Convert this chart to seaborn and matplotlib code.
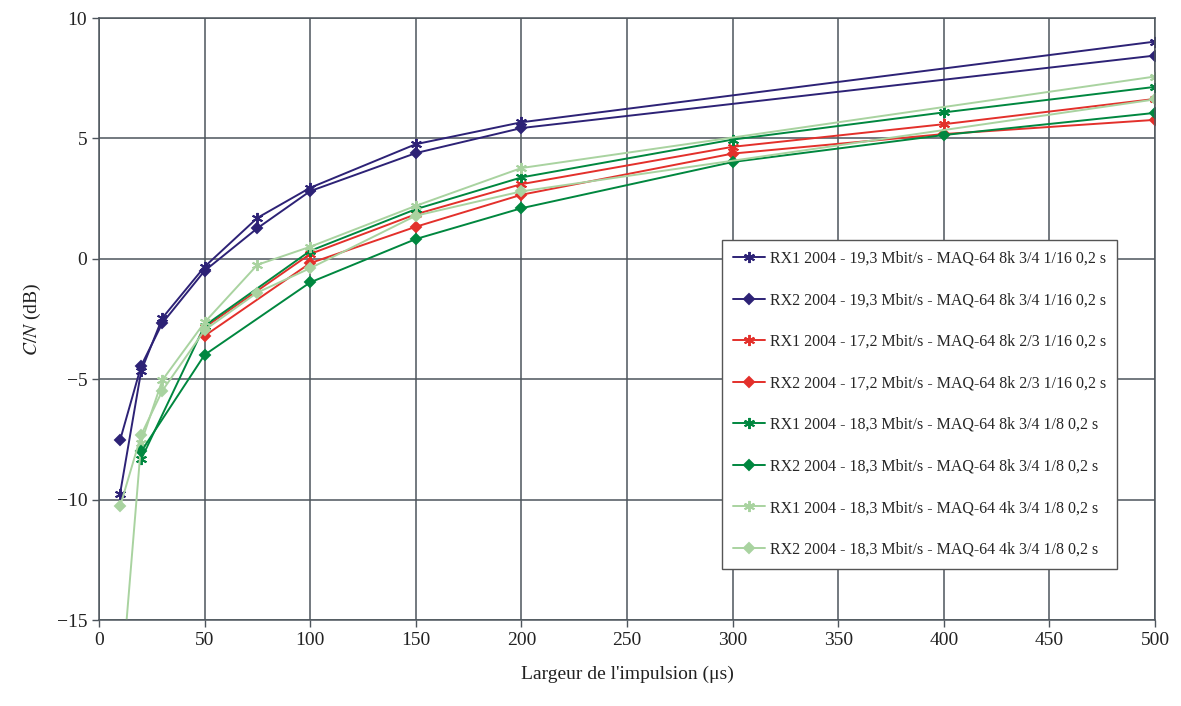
import pandas as pd
import matplotlib
matplotlib.use("Agg")
import matplotlib.pyplot as plt
import seaborn as sns

# ---- data ----
labels = [
    "RX1 2004 - 19,3 Mbit/s - MAQ-64 8k 3/4 1/16 0,2 s",
    "RX2 2004 - 19,3 Mbit/s - MAQ-64 8k 3/4 1/16 0,2 s",
    "RX1 2004 - 17,2 Mbit/s - MAQ-64 8k 2/3 1/16 0,2 s",
    "RX2 2004 - 17,2 Mbit/s - MAQ-64 8k 2/3 1/16 0,2 s",
    "RX1 2004 - 18,3 Mbit/s - MAQ-64 8k 3/4 1/8 0,2 s",
    "RX2 2004 - 18,3 Mbit/s - MAQ-64 8k 3/4 1/8 0,2 s",
    "RX1 2004 - 18,3 Mbit/s - MAQ-64 4k 3/4 1/8 0,2 s",
    "RX2 2004 - 18,3 Mbit/s - MAQ-64 4k 3/4 1/8 0,2 s",
]

navy_x = [10, 20, 30, 50, 75, 100, 150, 200, 500]
navy_rx1 = [-9.75, -4.65, -2.46, -0.33, 1.70, 2.95, 4.76, 5.67, 9.02]
navy_rx2 = [-7.53, -4.44, -2.67, -0.50, 1.27, 2.81, 4.39, 5.43, 8.44]

red_x = [50, 100, 150, 200, 300, 400, 500]
red_rx1 = [-2.85, 0.20, 1.85, 3.10, 4.65, 5.59, 6.64]
red_rx2 = [-3.20, -0.18, 1.33, 2.66, 4.37, 5.18, 5.77]

green_x = [20, 50, 100, 150, 200, 300, 400, 500]
green_rx1 = [-8.32, -2.78, 0.33, 2.06, 3.38, 4.95, 6.08, 7.14]
green_rx2 = [-8.00, -3.99, -0.98, 0.82, 2.10, 4.02, 5.14, 6.06]

lgreen_x = [10, 20, 30, 50, 75, 100, 150, 200, 500]
lgreen_rx1 = [-18.3, -7.63, -5.04, -2.64, -0.25, 0.50, 2.20, 3.77, 7.57]
lgreen_rx2 = [-10.28, -7.31, -5.48, -2.96, -1.40, -0.39, 1.79, 2.80, 6.62]

colors = ["#2d2276", "#2d2276", "#e3302b", "#e3302b",
          "#00873f", "#00873f", "#a9d3a0", "#a9d3a0"]

# long format table for seaborn
pairs = [(navy_x, navy_rx1), (navy_x, navy_rx2), (red_x, red_rx1), (red_x, red_rx2),
         (green_x, green_rx1), (green_x, green_rx2), (lgreen_x, lgreen_rx1), (lgreen_x, lgreen_rx2)]
frames = []
for lab, (xs, ys) in zip(labels, pairs):
    frames.append(pd.DataFrame({"x": xs, "y": ys, "serie": lab}))
df = pd.concat(frames, ignore_index=True)
df["rx"] = df["serie"].str[:3]

# ---- style ----
sns.set_theme(style="white")
plt.rcParams['font.family'] = ['Liberation Serif', 'DejaVu Serif']
plt.rcParams['mathtext.fontset'] = 'stix'

grid_col = "#4d555c"
palette = dict(zip(labels, colors))

fig = plt.figure(figsize=(11.81, 7.06), dpi=100)
ax = fig.add_axes([0.0838, 0.1218, 0.8942, 0.8527])

# RX1 series: asterisk markers, RX2 series: diamonds
for rx, mk, ms in [("RX1", (6, 2, 0), 8), ("RX2", "D", 5)]:
    sub = df[df["rx"] == rx]
    sns.lineplot(data=sub, x="x", y="y", hue="serie",
                 hue_order=[l for l in labels if l.startswith(rx)],
                 palette=palette, marker=mk, markersize=ms, markeredgewidth=1.4,
                 linewidth=1.4, estimator=None, sort=True, ax=ax)

# marker edges in the line colour (seaborn makes them white)
for ln in ax.lines:
    ln.set_markeredgecolor(ln.get_color())
    ln.set_markerfacecolor(ln.get_color())

ax.set_xlim(0, 500)
ax.set_ylim(-15, 10)
ax.set_xticks(range(0, 501, 50))
ax.set_yticks(range(-15, 11, 5))
ax.grid(True, color=grid_col, linewidth=1.1)
ax.set_axisbelow(True)
for sp in ax.spines.values():
    sp.set_color(grid_col)
    sp.set_linewidth(1.1)
ax.tick_params(axis="both", direction="out", length=5, width=1, color=grid_col,
               labelsize=14, labelcolor="#222222", left=True, bottom=True)

ax.set_xlabel("Largeur de l'impulsion (μs)", fontsize=14, color="#222222", labelpad=12)
ax.set_ylabel("$C/N$ (dB)", fontsize=14, color="#222222", labelpad=10)

handles, labs = ax.get_legend_handles_labels()
lookup = dict(zip(labs, handles))
for h in handles:
    h.set_markeredgecolor(h.get_color())
    h.set_markerfacecolor(h.get_color())
if ax.get_legend() is not None:
    ax.get_legend().remove()
leg = ax.legend([lookup[l] for l in labels], labels, loc="upper left",
                bbox_to_anchor=(0.59, 0.632),
                fontsize=11.5, frameon=True, fancybox=False, framealpha=1,
                edgecolor="#555555", labelspacing=1.6, handlelength=2.0,
                handletextpad=0.3, borderpad=0.7, borderaxespad=0)
leg.get_frame().set_linewidth(1.0)

fig.savefig("out.png", dpi=100)
